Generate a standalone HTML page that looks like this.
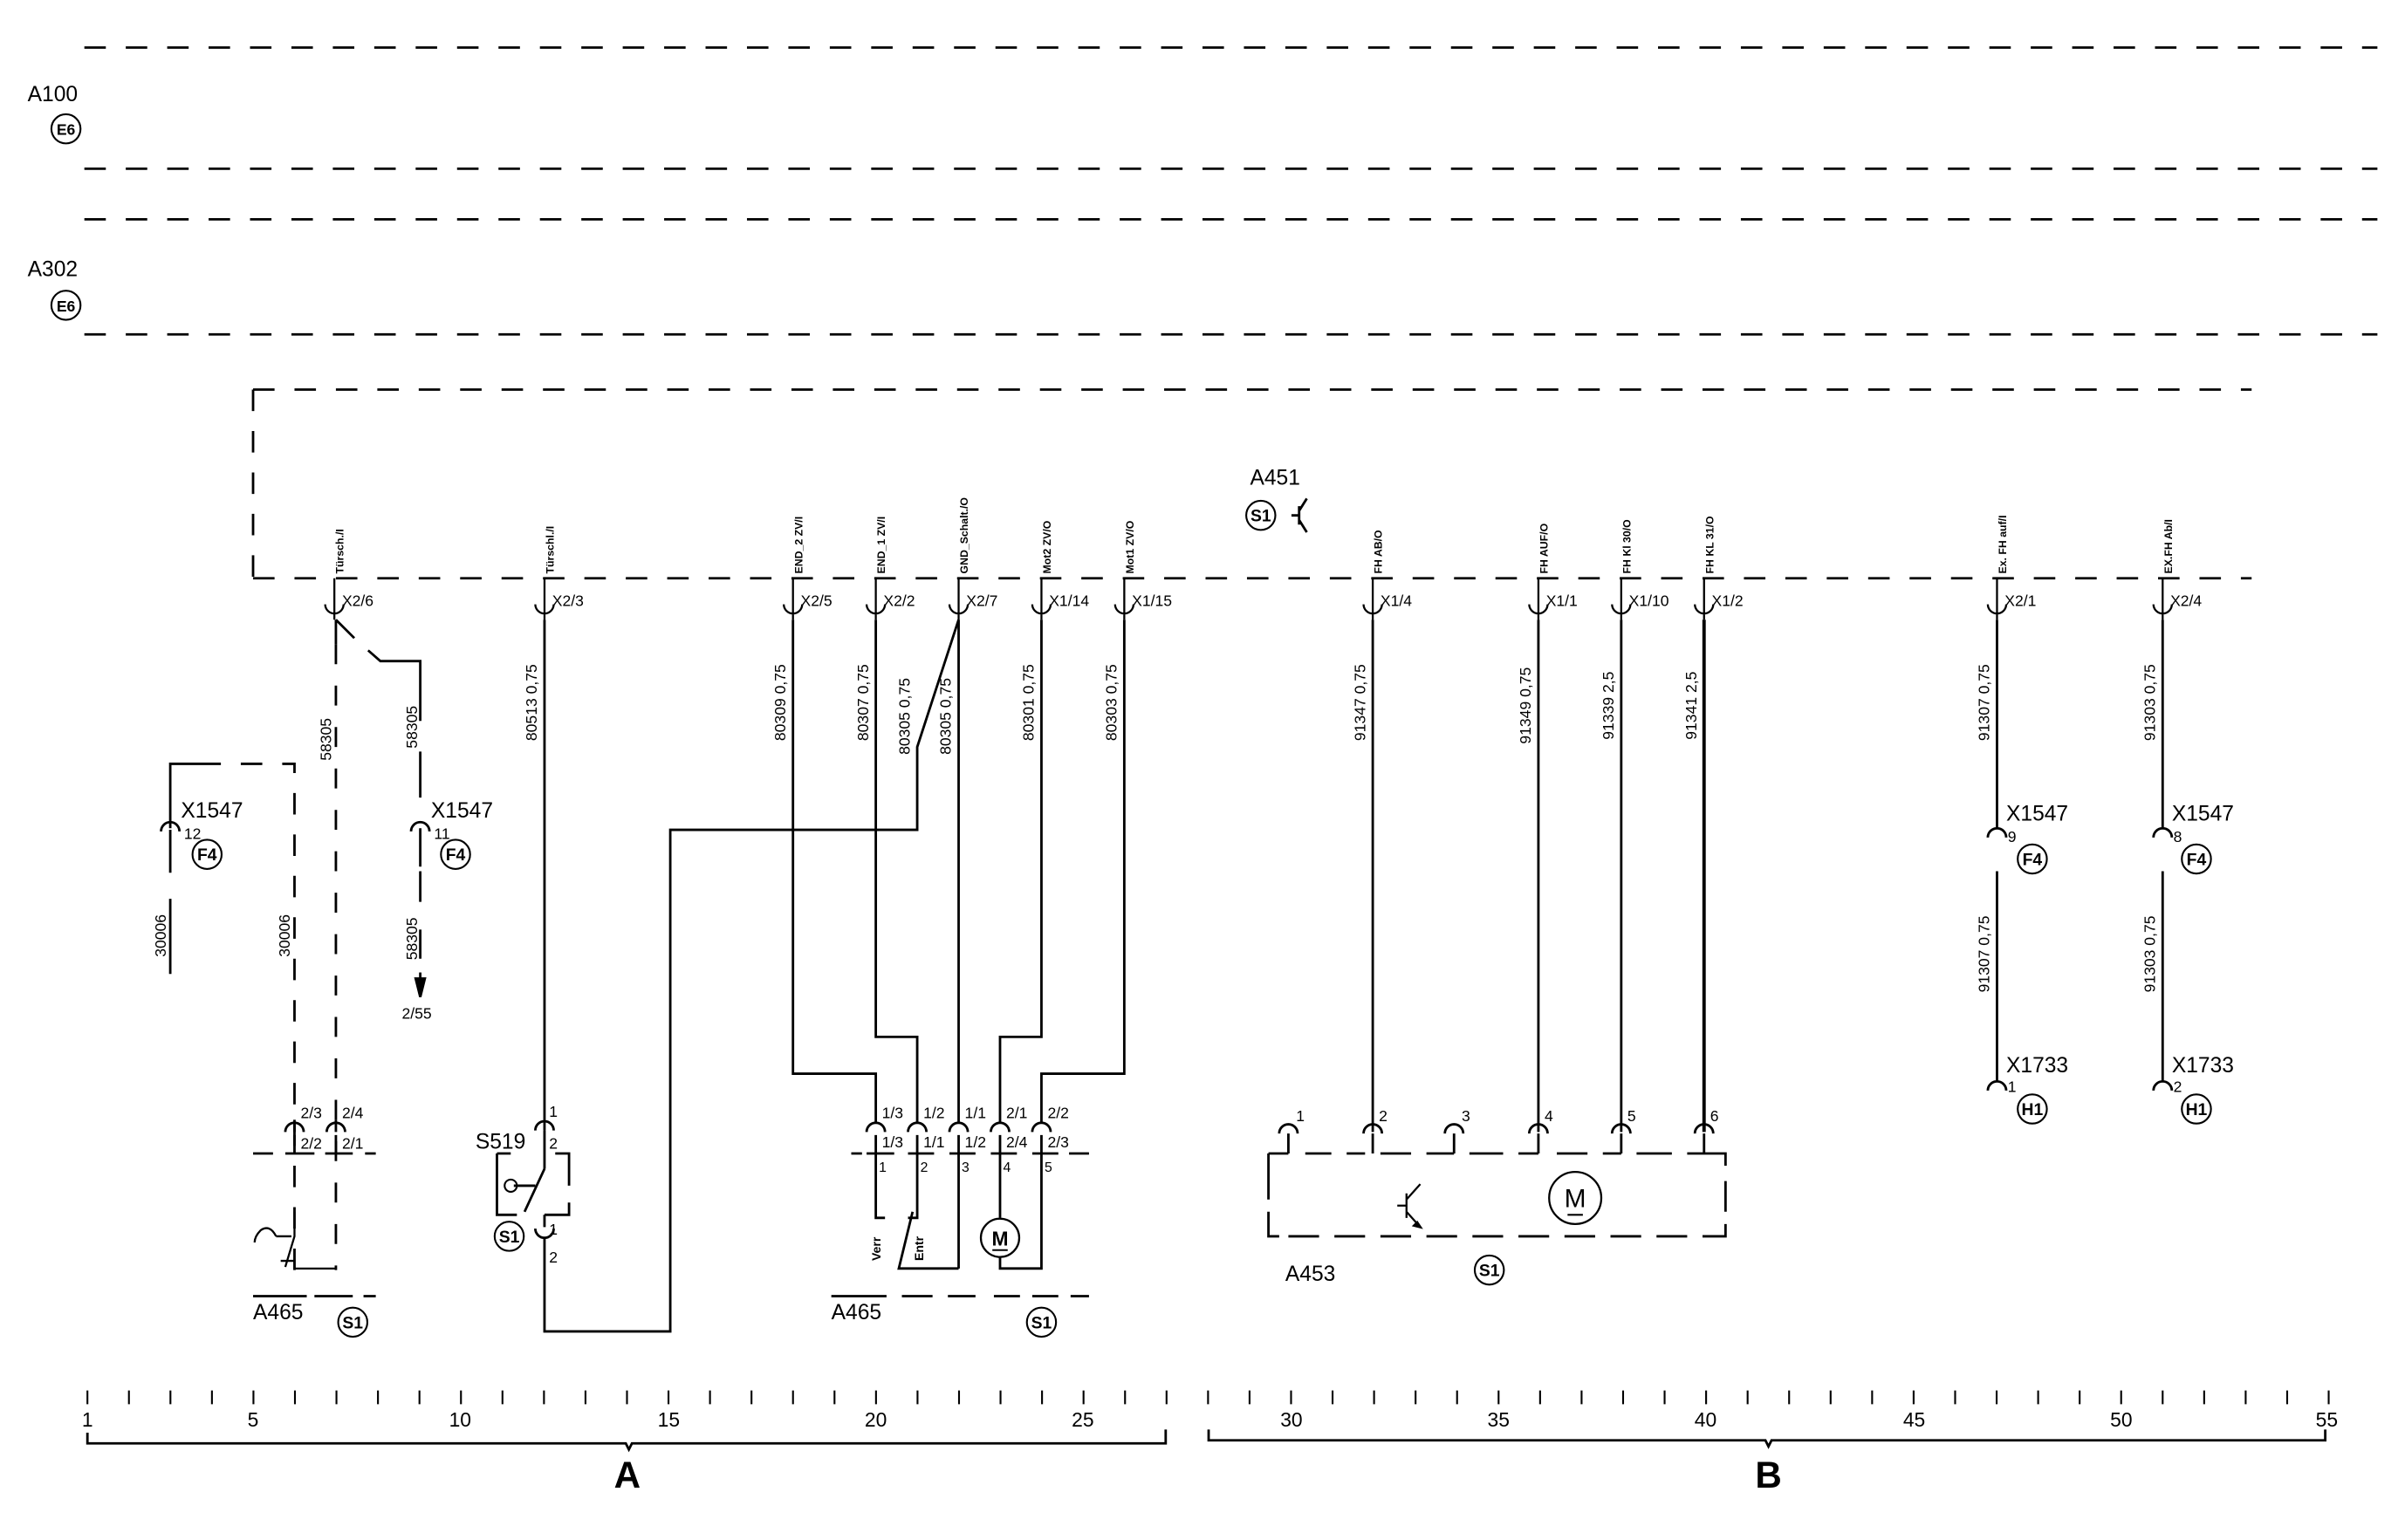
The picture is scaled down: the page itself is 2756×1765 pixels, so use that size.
<!DOCTYPE html>
<html><head><meta charset="utf-8">
<style>
html,body{margin:0;padding:0;background:#fff;}
svg{display:block;}
text{font-family:"Liberation Sans Narrow","Liberation Sans",sans-serif;fill:#000;}
.s{font-size:7px;font-weight:bold;}
.m{font-size:10px;}
.l{font-size:14px;}
.w{font-size:10px;}
</style></head>
<body>
<svg width="2756" height="1765" viewBox="0 0 1568 1004" preserveAspectRatio="none" xmlns="http://www.w3.org/2000/svg">
<g fill="none" stroke="#000" stroke-width="1.6">
<g stroke-dasharray="14 13">
<line x1="55" y1="31" x2="1550" y2="31"/>
<line x1="55" y1="110" x2="1550" y2="110"/>
<line x1="55" y1="143" x2="1550" y2="143"/>
<line x1="55" y1="218" x2="1550" y2="218"/>
<line x1="165" y1="254" x2="1468" y2="254"/>
<line x1="165" y1="254" x2="165" y2="377"/>
<line x1="165" y1="377" x2="1468" y2="377"/>
</g>
<circle cx="43" cy="84" r="9.5" stroke-width="1.2"/>
<circle cx="43" cy="199" r="9.5" stroke-width="1.2"/>

<g stroke-width="1.3">
<path d="M218 377V404 M212 394A6 6 0 0 0 224 394"/>
<path d="M355 377V404 M349 394A6 6 0 0 0 361 394"/>
<path d="M517 377V404 M511 394A6 6 0 0 0 523 394"/>
<path d="M571 377V404 M565 394A6 6 0 0 0 577 394"/>
<path d="M625 377V404 M619 394A6 6 0 0 0 631 394"/>
<path d="M679 377V404 M673 394A6 6 0 0 0 685 394"/>
<path d="M733 377V404 M727 394A6 6 0 0 0 739 394"/>
<path d="M895 377V404 M889 394A6 6 0 0 0 901 394"/>
<path d="M1003 377V404 M997 394A6 6 0 0 0 1009 394"/>
<path d="M1057 377V404 M1051 394A6 6 0 0 0 1063 394"/>
<path d="M1111 377V404 M1105 394A6 6 0 0 0 1117 394"/>
<path d="M1302 377V404 M1296 394A6 6 0 0 0 1308 394"/>
<path d="M1410 377V404 M1404 394A6 6 0 0 0 1416 394"/>
</g>

<!-- left section -->
<path d="M219 404V420 M219 404L231 416 M240 424L248 431H274V440"/>
<path d="M219 420V828" stroke-dasharray="13 14"/>
<path d="M274 440V565" stroke-dasharray="30 20"/>
<path d="M274 568V625" stroke-dasharray="20 18"/>
<path d="M111 540V498H130" />
<path d="M130 498H192V828" stroke-dasharray="14 13"/>
<path d="M111 541V569 M111 586V635"/>
<path d="M105 542A6 6 0 0 1 117 542 M268 542A6 6 0 0 1 280 542"/>
<circle cx="135" cy="557" r="9.5" stroke-width="1.2"/>
<circle cx="297" cy="557" r="9.5" stroke-width="1.2"/>
<path d="M274 634V640" />
<path d="M271 638H277L274 650Z" fill="#000"/>
<path d="M186 738A6 6 0 0 1 198 738 M213 738A6 6 0 0 1 225 738"/>
<path d="M192 730V738 M219 730V738 M192 740V752 M219 740V752"/>
<path d="M165 752H178 M186 752H205 M212 752H230 M238 752H245"/>
<path d="M192 790V806L186 826 M183 822H192V827H219 M180 806H190 M180 806Q176 798 170 802 Q166 806 166 810" stroke-width="1.3"/>
<path d="M165 845H200 M205 845H230 M237 845H245"/>
<circle cx="230" cy="862" r="9.5" stroke-width="1.2"/>

<!-- S519 -->
<path d="M355 404V737 M349 737A6 6 0 0 1 361 737"/>
<path d="M355 737V762 M355 762L342 790 M335 773H349 M324 752H333 M324 752V792H337 M362 752H371V773 M371 784V792H355 M355 792V800"/>
<circle cx="333" cy="773" r="4" stroke-width="1.2"/>
<path d="M349 801A6 6 0 0 0 361 801 M355 807V868H437V541H598V487L625 404"/>
<circle cx="332" cy="806" r="9.5" stroke-width="1.2"/>

<!-- middle wires -->
<path d="M517 404V700H571V732 M571 404V676H598V732 M625 404V732 M679 404V676H652V732 M733 404V700H679V732"/>
<path d="M565 738A6 6 0 0 1 577 738 M592 738A6 6 0 0 1 604 738 M619 738A6 6 0 0 1 631 738 M646 738A6 6 0 0 1 658 738 M673 738A6 6 0 0 1 685 738"/>
<path d="M571 740V794H577 M598 740V794H592 M595 790L586 827H625 M625 740V827 M652 740V794 M652 820V827H679V740"/>
<path d="M555 752H562 M565 752H583 M592 752H609 M619 752H636 M646 752H663 M673 752H690 M697 752H710"/>
<circle cx="652" cy="807" r="12.5" stroke-width="1.3"/>
<path d="M647 815H657" stroke-width="1.2"/>
<path d="M542 845H578 M588 845H608 M618 845H636 M648 845H665 M673 845H690 M698 845H710"/>
<circle cx="679" cy="862" r="9.5" stroke-width="1.2"/>

<!-- A451 -->
<circle cx="822" cy="336" r="9.5" stroke-width="1.2"/>
<path d="M842 336H847 M847 330V342 M847 333L852 325 M847 339L852 347"/>

<!-- right section -->
<path d="M895 404V738 M1003 404V738 M1057 404V738"/>
<path d="M1111 404V738" stroke-width="2.2"/>
<path d="M834 739A6 6 0 0 1 846 739 M889 739A6 6 0 0 1 901 739 M942 739A6 6 0 0 1 954 739 M997 739A6 6 0 0 1 1009 739 M1051 739A6 6 0 0 1 1063 739 M1105 739A6 6 0 0 1 1117 739"/>
<path d="M840 739V752 M895 739V752 M948 739V752 M1003 739V752 M1057 739V752 M1111 739V752"/>
<path d="M827 752H840 M851 752H868 M878 752H890 M900 752H920 M930 752H948 M958 752H980 M990 752H1003 M1015 752H1035 M1045 752H1057 M1067 752H1090 M1100 752H1125V760 M1125 770V790 M1125 798V806H1110 M1100 806H1080 M1070 806H1050 M1040 806H1020 M1010 806H990 M980 806H960 M950 806H930 M920 806H900 M890 806H870 M860 806H840 M834 806H827V790 M827 782V752"/>
<path d="M917 778V794 M917 786H911 M917 782L926 772 M917 790L926 800" stroke-width="1.3"/>
<path d="M924 797L926 800L922 799Z" fill="#000"/>
<circle cx="1027" cy="781" r="17" stroke-width="1.3"/>
<path d="M1022 792H1032" stroke-width="1.2"/>
<circle cx="971" cy="828" r="9.5" stroke-width="1.2"/>

<path d="M1302 404V540 M1296 546A6 6 0 0 1 1308 546 M1302 568V705 M1296 711A6 6 0 0 1 1308 711 M1410 404V540 M1404 546A6 6 0 0 1 1416 546 M1410 568V705 M1404 711A6 6 0 0 1 1416 711"/>
<circle cx="1325" cy="560" r="9.5" stroke-width="1.2"/>
<circle cx="1432" cy="560" r="9.5" stroke-width="1.2"/>
<circle cx="1325" cy="723" r="9.5" stroke-width="1.2"/>
<circle cx="1432" cy="723" r="9.5" stroke-width="1.2"/>

<line x1="56.4" y1="911" x2="1520" y2="911" stroke-width="9" stroke-dasharray="1.2 25.86"/>
<path d="M57 934V941H408L410 945L412 941H760V932"/>
<path d="M788 932V939H1151L1153 943L1155 939H1516V932"/>
</g>

<text class="l" x="18" y="66">A100</text>
<text x="43" y="88" text-anchor="middle" style="font-size:10px;font-weight:bold">E6</text>
<text class="l" x="18" y="180">A302</text>
<text x="43" y="203" text-anchor="middle" style="font-size:10px;font-weight:bold">E6</text>

<g class="s">
<text transform="translate(224,374) rotate(-90)">Türsch./I</text>
<text transform="translate(361,374) rotate(-90)">Türschl./I</text>
<text transform="translate(523,374) rotate(-90)">END_2 ZV/I</text>
<text transform="translate(577,374) rotate(-90)">END_1 ZV/I</text>
<text transform="translate(631,374) rotate(-90)">GND_Schalt./O</text>
<text transform="translate(685,374) rotate(-90)">Mot2 ZV/O</text>
<text transform="translate(739,374) rotate(-90)">Mot1 ZV/O</text>
<text transform="translate(901,374) rotate(-90)">FH AB/O</text>
<text transform="translate(1009,374) rotate(-90)">FH AUF/O</text>
<text transform="translate(1063,374) rotate(-90)">FH Kl 30/O</text>
<text transform="translate(1117,374) rotate(-90)">FH KL 31/O</text>
<text transform="translate(1308,374) rotate(-90)">Ex. FH auf/I</text>
<text transform="translate(1416,374) rotate(-90)">EX.FH Ab/I</text>
</g>
<g class="m">
<text x="223" y="395">X2/6</text><text x="360" y="395">X2/3</text>
<text x="522" y="395">X2/5</text><text x="576" y="395">X2/2</text>
<text x="630" y="395">X2/7</text><text x="684" y="395">X1/14</text>
<text x="738" y="395">X1/15</text><text x="900" y="395">X1/4</text>
<text x="1008" y="395">X1/1</text><text x="1062" y="395">X1/10</text>
<text x="1116" y="395">X1/2</text><text x="1307" y="395">X2/1</text>
<text x="1415" y="395">X2/4</text>
</g>
<g class="w" text-anchor="middle">
<text transform="translate(350,458) rotate(-90)">80513  0,75</text>
<text transform="translate(512,458) rotate(-90)">80309  0,75</text>
<text transform="translate(566,458) rotate(-90)">80307  0,75</text>
<text transform="translate(593,467) rotate(-90)">80305  0,75</text>
<text transform="translate(620,467) rotate(-90)">80305  0,75</text>
<text transform="translate(674,458) rotate(-90)">80301  0,75</text>
<text transform="translate(728,458) rotate(-90)">80303  0,75</text>
<text transform="translate(890,458) rotate(-90)">91347  0,75</text>
<text transform="translate(998,460) rotate(-90)">91349  0,75</text>
<text transform="translate(1052,460) rotate(-90)">91339  2,5</text>
<text transform="translate(1106,460) rotate(-90)">91341  2,5</text>
<text transform="translate(1297,458) rotate(-90)">91307  0,75</text>
<text transform="translate(1405,458) rotate(-90)">91303  0,75</text>
<text transform="translate(1297,622) rotate(-90)">91307  0,75</text>
<text transform="translate(1405,622) rotate(-90)">91303  0,75</text>
<text transform="translate(216,482) rotate(-90)">58305</text>
<text transform="translate(272,474) rotate(-90)">58305</text>
<text transform="translate(108,610) rotate(-90)">30006</text>
<text transform="translate(189,610) rotate(-90)">30006</text>
<text transform="translate(272,612) rotate(-90)">58305</text>
</g>
<g class="l">
<text x="118" y="533">X1547</text><text x="281" y="533">X1547</text>
<text x="1308" y="535">X1547</text><text x="1416" y="535">X1547</text>
<text x="1308" y="699">X1733</text><text x="1416" y="699">X1733</text>
<text x="815" y="316">A451</text>
<text x="310" y="749">S519</text>
<text x="165" y="860">A465</text>
<text x="542" y="860">A465</text>
<text x="838" y="835">A453</text>
</g>
<g style="font-size:10px">
<text x="120" y="547">12</text><text x="283" y="547">11</text>
<text x="1309" y="549">9</text><text x="1417" y="549">8</text>
<text x="1309" y="712">1</text><text x="1417" y="712">2</text>
<text x="262" y="664">2/55</text>
<text x="196" y="729">2/3</text><text x="223" y="729">2/4</text>
<text x="196" y="749">2/2</text><text x="223" y="749">2/1</text>
<text x="358" y="728">1</text><text x="358" y="749">2</text>
<text x="358" y="805">1</text><text x="358" y="823">2</text>
<text x="575" y="729">1/3</text><text x="602" y="729">1/2</text><text x="629" y="729">1/1</text><text x="656" y="729">2/1</text><text x="683" y="729">2/2</text>
<text x="575" y="748">1/3</text><text x="602" y="748">1/1</text><text x="629" y="748">1/2</text><text x="656" y="748">2/4</text><text x="683" y="748">2/3</text>
<text x="573" y="764" style="font-size:9px">1</text><text x="600" y="764" style="font-size:9px">2</text><text x="627" y="764" style="font-size:9px">3</text><text x="654" y="764" style="font-size:9px">4</text><text x="681" y="764" style="font-size:9px">5</text>
<text x="845" y="731">1</text><text x="899" y="731">2</text><text x="953" y="731">3</text><text x="1007" y="731">4</text><text x="1061" y="731">5</text><text x="1115" y="731">6</text>
</g>
<g style="font-size:8px;font-weight:bold">
<text transform="translate(574,822) rotate(-90)">Verr</text>
<text transform="translate(602,822) rotate(-90)">Entr</text>
</g>
<g style="font-size:11px;font-weight:bold" text-anchor="middle">
<text x="135" y="561">F4</text><text x="297" y="561">F4</text>
<text x="1325" y="564">F4</text><text x="1432" y="564">F4</text>
<text x="1325" y="727">H1</text><text x="1432" y="727">H1</text>
<text x="230" y="866">S1</text><text x="679" y="866">S1</text>
<text x="332" y="810">S1</text><text x="822" y="340">S1</text>
<text x="971" y="832">S1</text>
<text x="652" y="812" style="font-size:13px">M</text>
<text x="1027" y="787" style="font-size:17px;font-weight:normal">M</text>
</g>
<g style="font-size:13px" text-anchor="middle">
<text x="57" y="930">1</text><text x="165" y="930">5</text><text x="300" y="930">10</text>
<text x="436" y="930">15</text><text x="571" y="930">20</text><text x="706" y="930">25</text>
<text x="842" y="930">30</text><text x="977" y="930">35</text><text x="1112" y="930">40</text>
<text x="1248" y="930">45</text><text x="1383" y="930">50</text><text x="1517" y="930">55</text>
</g>
<text x="409" y="970" text-anchor="middle" style="font-size:24px;font-weight:bold;font-family:'Liberation Sans',sans-serif">A</text>
<text x="1153" y="970" text-anchor="middle" style="font-size:24px;font-weight:bold;font-family:'Liberation Sans',sans-serif">B</text>
</svg>
</body></html>
